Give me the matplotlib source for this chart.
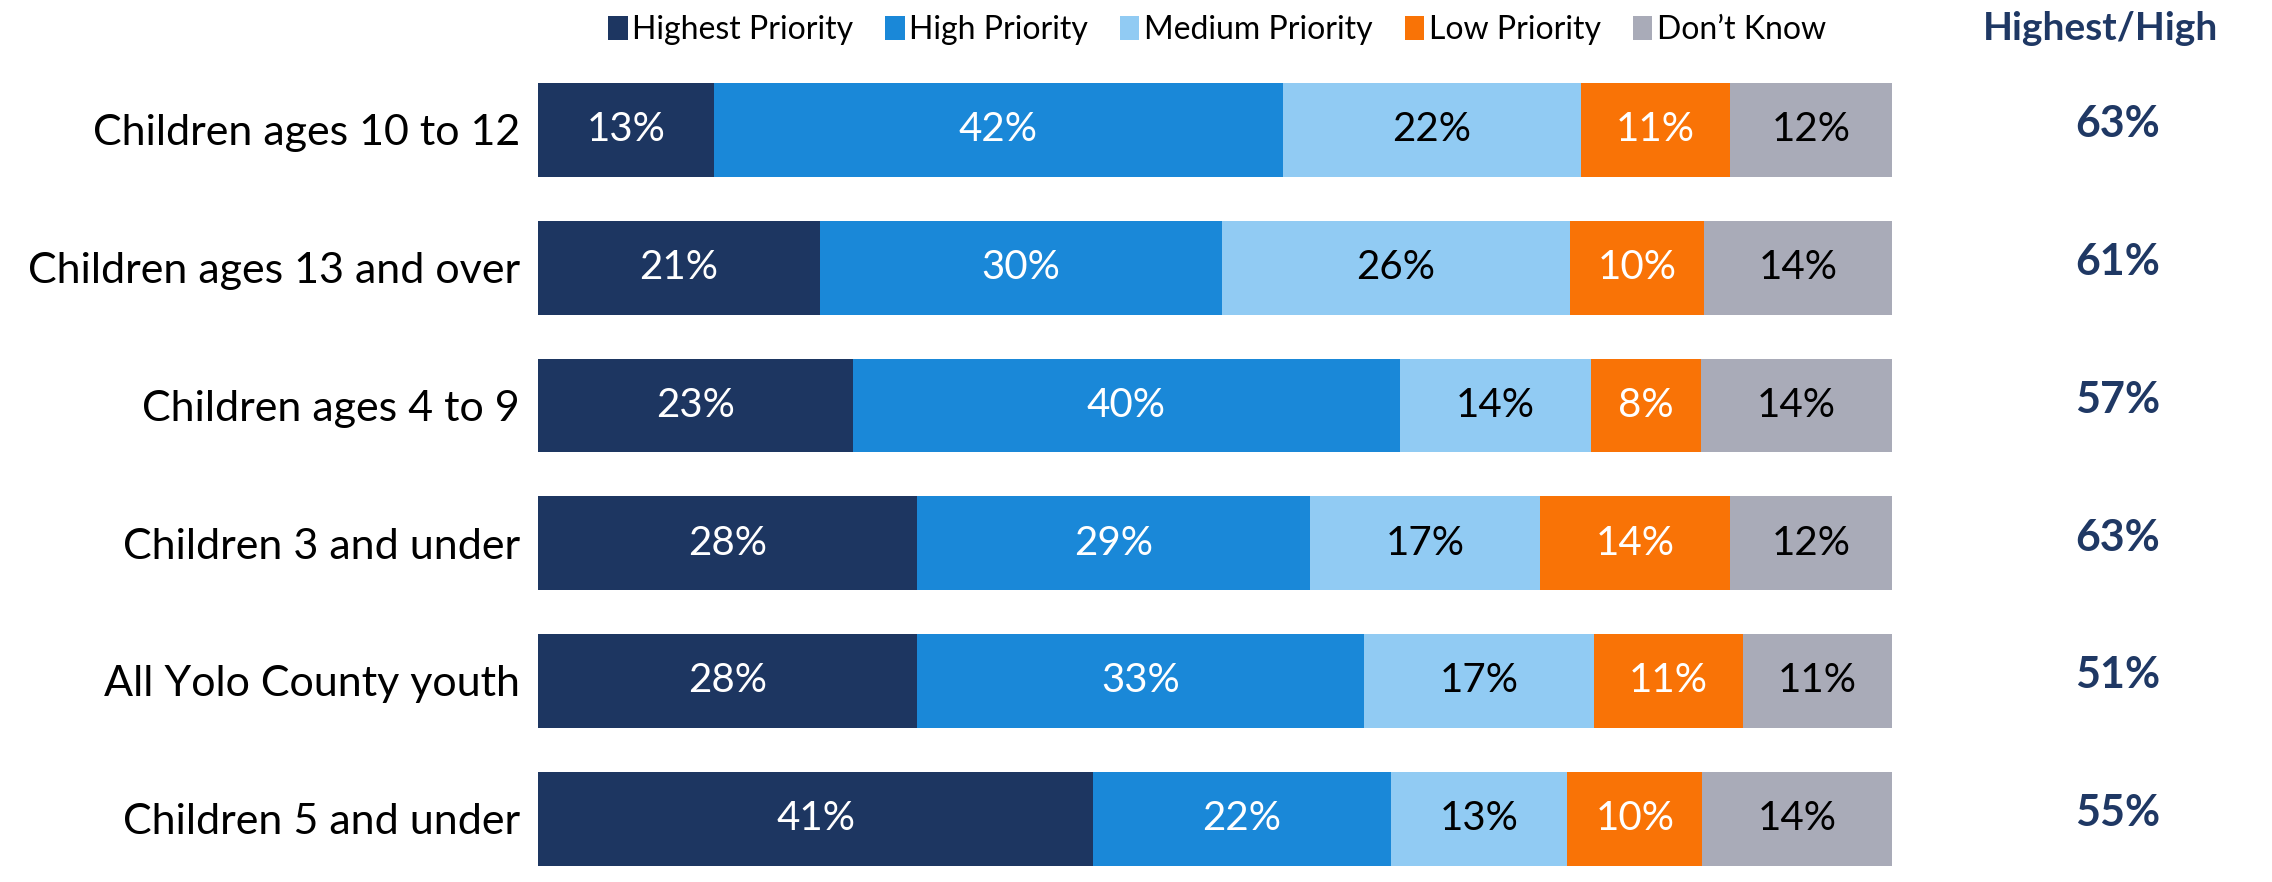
import numpy as np
import matplotlib.pyplot as plt
from matplotlib.patches import Patch

plt.rcParams['font.family'] = ['Lato', 'DejaVu Sans']

#------------------------------------------------------------------
# chart data
categories = ['Children ages 10 to 12', 'Children ages 13 and over',
              'Children ages 4 to 9', 'Children 3 and under',
              'All Yolo County youth', 'Children 5 and under']
series_names = ['Highest Priority', 'High Priority', 'Medium Priority',
                'Low Priority', 'Don\u2019t Know']
highest = [13, 21, 23, 28, 28, 41]
high = [42, 30, 40, 29, 33, 22]
medium = [22, 26, 14, 17, 17, 13]
low = [11, 10, 8, 14, 11, 10]
dont_know = [12, 14, 14, 12, 11, 14]
highest_high = [63, 61, 57, 63, 51, 55]

colors = ['#1D3661', '#1A88D8', '#91CBF3', '#F97306', '#A9ABB8']
text_colors = ['white', 'white', 'black', 'white', 'black']
navy = '#1F3864'

#------------------------------------------------------------------
data = np.array([highest, high, medium, low, dont_know], dtype=float)
totals = data.sum(axis=0)
shares = data / totals * 100.0

n = len(categories)
ypos = np.arange(n)[::-1]

fig = plt.figure(figsize=(22.72, 8.82), dpi=100)
ax = fig.add_axes([538/2272, 0.0, (1892-538)/2272, 1 - 61/882])

left = np.zeros(n)
for i in range(len(series_names)):
    ax.barh(ypos, shares[i], left=left, height=0.68, color=colors[i],
            edgecolor='none')
    for j in range(n):
        ax.text(left[j] + shares[i][j]/2, ypos[j], '%d%%' % data[i][j],
                ha='center', va='center', fontsize=29, color=text_colors[i])
    left += shares[i]

ax.set_xlim(0, 100)
ax.set_ylim(-0.459, n - 0.5)
ax.set_yticks(ypos)
ax.set_yticklabels(categories, fontsize=31)
ax.tick_params(axis='y', length=0, pad=13)
ax.set_xticks([])
for s in ax.spines.values():
    s.set_visible(False)

# right-hand summary column
fig.text(2101/2272, 1 - 28/882, 'Highest/High', ha='center', va='center',
         fontsize=28, fontweight='bold', color=navy)
for j in range(n):
    ax.annotate('%d%%' % highest_high[j], xy=(2118/2272, ypos[j] + 0.04),
                xycoords=('figure fraction', 'data'), ha='center',
                va='center', fontsize=31, fontweight='bold', color=navy)

handles = [Patch(facecolor=c, edgecolor='none') for c in colors]
fig.legend(handles, series_names, loc='center', ncol=5, frameon=False,
           bbox_to_anchor=(1217/2272, 1 - 30/882), fontsize=23,
           handlelength=0.6, handleheight=0.8, handletextpad=0.15,
           columnspacing=1.0)

plt.savefig('out.png', dpi=100)
plt.close()
